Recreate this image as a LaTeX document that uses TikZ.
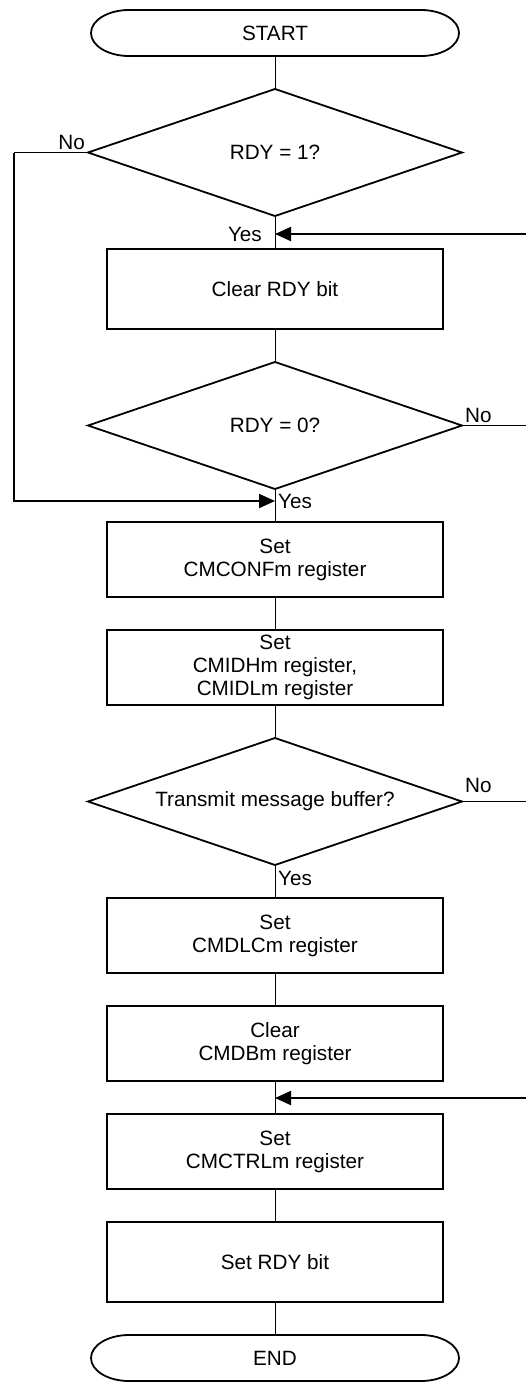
\documentclass[tikz,border=0pt]{standalone}
\usepackage{fontspec}
\setmainfont{Liberation Sans}
\usepackage{tikz}
\usetikzlibrary{arrows.meta,positioning,shapes.geometric,calc}

\begin{document}
\begin{tikzpicture}[
  x=1pt, y=1pt,
  node distance=33pt,
  term/.style={outer sep=0pt, minimum width=368pt, minimum height=46pt, font=\fontsize{20.7}{23}\selectfont},
  proc/.style={draw, line width=1.8pt, outer sep=0pt, align=center, minimum width=336pt, minimum height=75pt, inner sep=2pt, font=\fontsize{20.7}{23}\selectfont},
  dec/.style={draw, diamond, line width=1.8pt, outer sep=0pt, aspect=2.93, minimum width=374pt, minimum height=127pt, inner sep=0pt, font=\fontsize{20.7}{23}\selectfont},
  lbl/.style={inner sep=3pt, font=\fontsize{20.7}{23}\selectfont},
  conn/.style={line width=0.9pt},
  arr/.style={-{Triangle[length=16pt, width=14pt]}, line width=2pt},
]
\useasboundingbox (0,0) rectangle (525,-1384);

\node[term] (start) at (275,-33) {START};
\node[dec, below=of start] (rdyone) {RDY = 1?};
\node[proc, below=of rdyone, minimum height=80pt] (clrrdy) {Clear RDY bit};
\node[dec, below=of clrrdy] (rdyzero) {RDY = 0?};
\node[proc, below=of rdyzero] (setconf) {Set\\CMCONFm register};
\node[proc, below=of setconf] (setid) {Set\\CMIDHm register,\\CMIDLm register};
\node[dec, below=of setid] (txbuf) {Transmit message buffer?};
\node[proc, below=of txbuf] (setdlc) {Set\\CMDLCm register};
\node[proc, below=of setdlc] (clrdb) {Clear\\CMDBm register};
\node[proc, below=of clrdb] (setctrl) {Set\\CMCTRLm register};
\node[proc, below=of setctrl, minimum height=80pt] (setrdy) {Set RDY bit};
\node[term, below=of setrdy] (stop) {END};

% terminal outlines with oval ends
\foreach \t in {start,stop}
  \draw[line width=1.8pt] ([xshift=38pt]\t.north west) -- ([xshift=-38pt]\t.north east)
    arc[start angle=90, end angle=-90, x radius=38pt, y radius=23pt]
    -- ([xshift=38pt]\t.south west)
    arc[start angle=270, end angle=90, x radius=38pt, y radius=23pt] -- cycle;

% join points on the main line
\coordinate (yes1) at ([yshift=-18pt]rdyone.south);
\coordinate (yes2) at ([yshift=-12pt]rdyzero.south);
\coordinate (back2) at ([yshift=-17pt]clrdb.south);
\coordinate (redge) at (526,0);
\coordinate (lcorner) at ([xshift=-74pt]rdyone.west);

\draw[conn] (start) -- (rdyone);
\draw[conn] (rdyone) -- (clrrdy);
\draw[conn] (clrrdy) -- (rdyzero);
\draw[conn] (rdyzero) -- (setconf);
\draw[conn] (setconf) -- (setid);
\draw[conn] (setid) -- (txbuf);
\draw[conn] (txbuf) -- (setdlc);
\draw[conn] (setdlc) -- (clrdb);
\draw[conn] (clrdb) -- (setctrl);
\draw[conn] (setctrl) -- (setrdy);
\draw[conn] (setrdy) -- (stop);

% No branches
\draw[conn] (rdyone.west) -- (lcorner);
\draw[arr] (lcorner) |- (yes2);
\draw[conn] (rdyzero.east) -- (rdyzero.east -| redge);
\draw[conn] (txbuf.east) -- (txbuf.east -| redge);

% returns from the right
\draw[arr] (yes1 -| redge) -- (yes1);
\draw[arr] (back2 -| redge) -- (back2);

\node[lbl, anchor=south east] at (rdyone.west) {No};
\node[lbl, anchor=east, xshift=-10pt] at (yes1) {Yes};
\node[lbl, anchor=south west] at (rdyzero.east) {No};
\node[lbl, anchor=west] at (yes2) {Yes};
\node[lbl, anchor=south west, yshift=6pt] at (txbuf.east) {No};
\node[lbl, anchor=north west, yshift=-3pt] at (txbuf.south) {Yes};
\end{tikzpicture}
\end{document}
